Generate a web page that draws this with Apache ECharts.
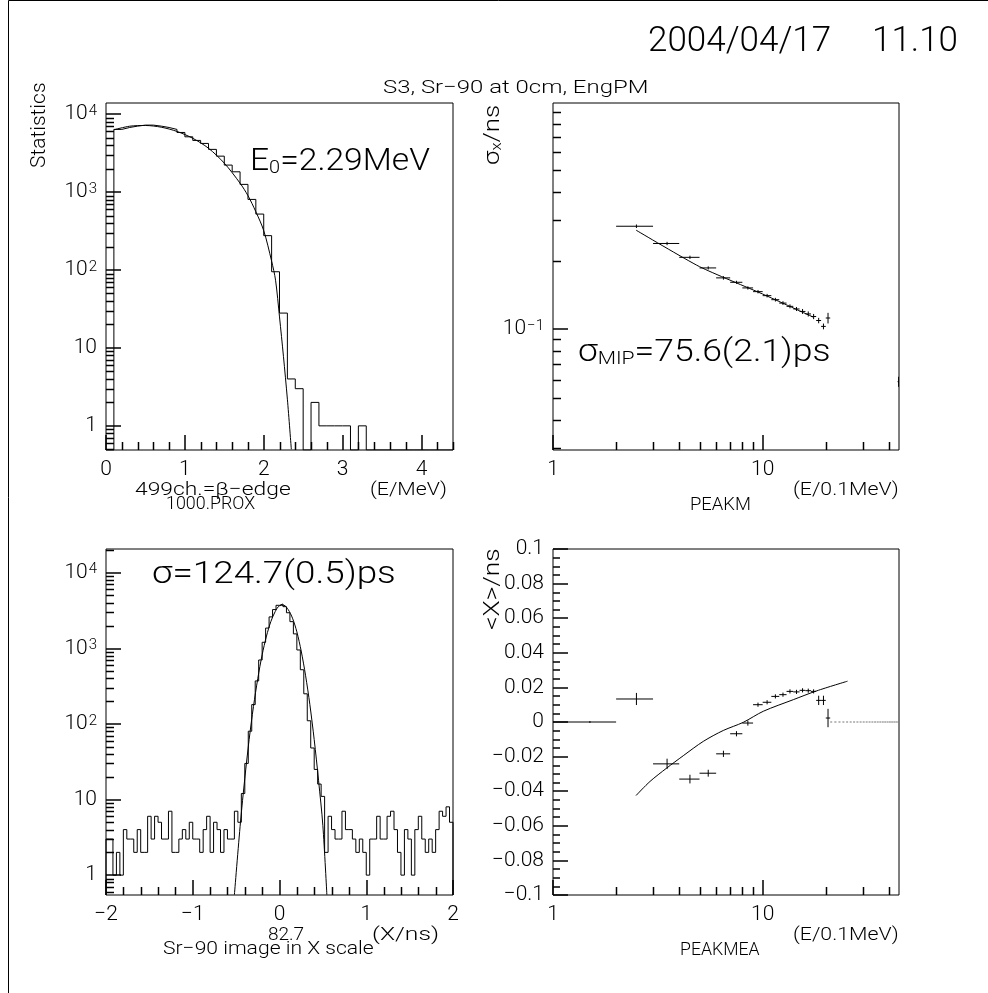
<!DOCTYPE html>
<html><head><meta charset="utf-8">
<script src="https://cdn.jsdelivr.net/npm/echarts@6/dist/echarts.min.js"></script>
<style>html,body{margin:0;padding:0;background:#fff}#c{width:988px;height:993px}</style>
</head><body><div id="c"></div>
<script>
// ---------------- DATA ----------------
// Top-left: energy spectrum histogram (bins of 0.1 MeV from 0 to 4.4)
const tlBinStart = 0.0, tlBinWidth = 0.1;
const tlCounts = [0,6370,6740,7020,7230,7230,7020,6740,6370,5820,5120,4600,4210,3530,2890,2220,1820,1255,805,522,276,95,28,4,3,0,2,1,1,1,1,0,1,0,0,0,0,0,0,0,0,0,0,0];
const tlFitE = [0.1,0.3,0.5,0.7,0.9,1.1,1.3,1.5,1.7,1.8,1.9,2.0,2.1,2.15,2.2,2.25,2.3,2.35];
const tlFitN = [6300,7000,7150,6800,6000,4900,3650,2350,1300,900,560,320,130,74,25,7.8,2.2,0.5];
const tlXTicks = [0,1,2,3,4];
const tlYTicks = [1,10,100,1000,10000];

// Top-right: sigma_x vs E (bins of width 1 in E/0.1MeV)
const trBinLo = [2,3,4,5,6,7,8,9,10,11,12,13,14,15,16,17,18,19,20,44];
const trSigma = [0.283,0.2377,0.2066,0.1856,0.1678,0.1605,0.1516,0.146,0.1402,0.1346,0.130,0.1258,0.1225,0.1195,0.1165,0.1135,0.109,0.1027,0.1118,0.0587];
const trErr = [0.005,0.004,0.0035,0.003,0.003,0.0025,0.0025,0.0025,0.0025,0.0025,0.0025,0.0025,0.0025,0.003,0.003,0.003,0.003,0.003,0.006,0.003];
const trFitE = [2.49,5.0,10,17.4];
const trFitS = [0.272,0.188,0.1425,0.1129];

// Bottom-left: time histogram (bins of 0.04 ns from -2 to 2)
const blBinStart = -2, blBinWidth = 0.04;
const blCounts = [3,3,1,2,1,4,3,3,2,4,2,2,6,3,6,5,3,3,7,2,2,3,4,3,5,3,3,2,4,6,2,5,4,2,4,3,3,7,5,12,
  30,80,180,370,700,1200,1850,2600,3250,3700,3850,3550,2950,2250,1550,950,520,250,110,48,25,16,
  11,2,6,4,3,3,7,4,4,3,2,3,2,1,3,3,6,3,3,6,7,4,2,1,4,3,1,4,6,3,2,3,2,4,7,6,8,5];
const blFitX = [-0.52,-0.45,-0.4,-0.35,-0.3,-0.25,-0.2,-0.15,-0.1,-0.05,0,0.05,0.1,0.15,0.2,0.25,0.3,0.35,0.4,0.45,0.5,0.546];
const blFitN = [0.55,5,19,62,170,400,820,1450,2250,3050,3650,3700,3250,2500,1650,920,440,180,62,18,4.5,0.55];
const blXTicks = [-2,-1,0,1,2];
const blYTicks = [1,10,100,1000,10000];

// Bottom-right: <X> vs E (bins of width 1)
const brBinLo = [1,2,3,4,5,6,7,8,9,10,11,12,13,14,15,16,17,18,19,20,21,22,23,24,25,26,27,28,29,30,31,32,33,34,35,36,37,38,39,40,41,42,43,44];
const brMean = [0,0.0133,-0.0242,-0.033,-0.0296,-0.0184,-0.0068,-0.0006,0.010,0.0114,0.0148,0.0158,0.0177,0.0174,0.0183,0.0181,0.0177,0.0125,0.0125,0.0023,
  0,0,0,0,0,0,0,0,0,0,0,0,0,0,0,0,0,0,0,0,0,0,0,0];
const brErr = [0,0.0035,0.003,0.0025,0.002,0.0018,0.0015,0.0015,0.0012,0.0012,0.0012,0.0012,0.0012,0.0012,0.0012,0.0012,0.0012,0.0027,0.0027,0.0053,
  0,0,0,0,0,0,0,0,0,0,0,0,0,0,0,0,0,0,0,0,0,0,0,0];
const brFitE = [2.49,2.90,3.48,4.18,5.21,6.49,8.08,10.07,14.0,18.1,25.4];
const brFitM = [-0.0425,-0.0344,-0.0267,-0.0195,-0.0112,-0.0049,-0.0002,0.0062,0.0129,0.0180,0.0236];
const logXTicks = [1,10];

// ---------------- RANGES ----------------
const TL = {xmin:0, xmax:4.4, ymin:0.49, ymax:13900};
const TR = {xmin:1, xmax:44.7, ymin:0.0294, ymax:0.985};
const BL = {xmin:-2, xmax:2, ymin:0.546, ymax:20550};
const BR = {xmin:1, xmax:44.7, ymin:-0.1, ymax:0.1, yInterval:0.02};

const FONT = "Roboto, 'DejaVu Sans', sans-serif";
const FW = 300;
const INK = '#000';
const TICKW = 1.5;

function range(a, b, step) { const r=[]; for (let v=a; v<=b+1e-9; v+=step) r.push(+v.toFixed(6)); return r; }
function nonMultiples(arr, step) { return arr.filter(v => Math.abs(v/step - Math.round(v/step)) > 1e-6); }
function logMinors(lo, hi) {
  const r=[]; for (let e=-3;e<=5;e++) for (let m=2;m<=9;m++){ const v=+(m*Math.pow(10,e)).toPrecision(6); if (v>lo && v<hi) r.push(v);} return r;
}
function supFmt(v) {
  const e = Math.round(Math.log10(v));
  if (e === 0) return '{b|1}';
  if (e === 1) return '{b|10}';
  return '{b|10}{sup|' + (e < 0 ? '\u2212' + (-e) : e) + '}';
}
function minusFmt(v) { return String(+(+v).toFixed(3)).replace('-', '\u2212'); }
const richSup = {
  b: {fontSize: 21, fontFamily: FONT, fontWeight: FW, color: INK, verticalAlign: 'bottom', lineHeight: 21},
  sup: {fontSize: 15, fontFamily: FONT, fontWeight: FW, color: INK, verticalAlign: 'top', lineHeight: 15, padding: [0,0,13,1]}
};
const labelStyle = {margin: 9, fontSize: 21, fontFamily: FONT, fontWeight: FW, color: INK};

function mkAxis(gridIndex, dim, type, min, max, ticks, fmt, rich) {
  const a = {
    gridIndex, type, min, max, scale: true,
    position: dim === 'x' ? 'bottom' : 'left',
    axisLine: {show: false, onZero: false}, splitLine: {show: false}, minorTick: {show: false},
    axisTick: {show: true, inside: true, length: 15, customValues: ticks, lineStyle: {color: INK, width: TICKW}},
    axisLabel: Object.assign({show: true, customValues: ticks, formatter: fmt, rich: rich || undefined}, labelStyle)
  };
  if (type === 'log') a.logBase = 10;
  return a;
}

const xAxes = [
  mkAxis(0,'x','value',TL.xmin,TL.xmax,tlXTicks,v=>String(v)),
  mkAxis(1,'x','log',TR.xmin,TR.xmax,logXTicks,v=>String(Math.round(v))),
  mkAxis(2,'x','value',BL.xmin,BL.xmax,blXTicks,v=>minusFmt(v)),
  mkAxis(3,'x','log',BR.xmin,BR.xmax,logXTicks,v=>String(Math.round(v)))
];
const yAxes = [
  mkAxis(0,'y','log',TL.ymin,TL.ymax,tlYTicks,supFmt,richSup),
  mkAxis(1,'y','log',TR.ymin,TR.ymax,[0.1],supFmt,richSup),
  mkAxis(2,'y','log',BL.ymin,BL.ymax,blYTicks,supFmt,richSup),
  {gridIndex:3, type:'value', min:BR.ymin, max:BR.ymax, interval:BR.yInterval, position:'left',
    axisLine:{show:false, onZero:false}, splitLine:{show:false},
    axisTick:{show:true, inside:true, length:15, lineStyle:{color:INK, width:TICKW}},
    minorTick:{show:true, splitNumber:4, length:7, lineStyle:{color:INK, width:TICKW}},
    axisLabel: Object.assign({show:true, formatter: v => minusFmt(v)}, labelStyle)}
];

// minor ticks on the other axes, placed through each panel's own scales
const minorX = [nonMultiples(range(0,4.4,0.2),1), logMinors(TR.xmin,TR.xmax), nonMultiples(range(-2,2,0.2),1), logMinors(BR.xmin,BR.xmax)];
const minorY = [logMinors(TL.ymin,TL.ymax), logMinors(TR.ymin,TR.ymax), logMinors(BL.ymin,BL.ymax), []];
const RANGES = [TL, TR, BL, BR];
function minorTickSeries(gi) {
  const R = RANGES[gi];
  const data = minorX[gi].map(v => [v, R.ymin, 0]).concat(minorY[gi].map(v => [R.xmin, v, 1]));
  return {type:'custom', xAxisIndex: gi, yAxisIndex: gi, data, clip:false, silent:true, animation:false, z: 5,
    renderItem(params, api) {
      const cs = params.coordSys;
      const p = api.coord([api.value(0), api.value(1)]);
      const bottom = cs.y + cs.height, left = cs.x, len = 8;
      const shape = api.value(2) === 0
        ? {x1: Math.round(p[0]) + 0.5, y1: bottom, x2: Math.round(p[0]) + 0.5, y2: bottom - len}
        : {x1: left, y1: Math.round(p[1]) + 0.5, x2: left + len, y2: Math.round(p[1]) + 0.5};
      return {type:'line', shape, style:{stroke: INK, lineWidth: TICKW}};
    }};
}

function histData(start, width, counts, floor) {
  const d = [[start, floor]];
  counts.forEach((c, i) => d.push([+(start + i*width).toFixed(6), c > 0 ? c : floor]));
  d.push([+(start + counts.length*width).toFixed(6), counts[counts.length-1] > 0 ? counts[counts.length-1] : floor]);
  d.push([+(start + counts.length*width).toFixed(6), floor]);
  return d;
}
function stepSeries(gi, data) {
  return {type:'line', xAxisIndex: gi, yAxisIndex: gi, data, step:'end', symbol:'none', clip:true,
    lineStyle:{color: INK, width: 1}, animation:false, silent:true};
}
function curveSeries(gi, xs, ys, smooth) {
  return {type:'line', xAxisIndex: gi, yAxisIndex: gi, data: xs.map((x,i)=>[x, ys[i]]), symbol:'none', clip:true,
    smooth: smooth || false, lineStyle:{color: INK, width: 1}, animation:false, silent:true};
}
function errSeries(gi, data) {
  return {type:'custom', xAxisIndex: gi, yAxisIndex: gi, data, clip:true, animation:false, silent:true,
    renderItem(params, api) {
      const xc = api.value(0), y = api.value(1), xl = api.value(2), xh = api.value(3), yl = api.value(4), yh = api.value(5);
      const zero = api.value(6) === 1;
      const pL = api.coord([xl, y]), pR = api.coord([xh, y]);
      const pB = api.coord([xc, yl]), pT = api.coord([xc, yh]);
      const st = zero ? {stroke:'#777', lineWidth:1, lineDash:[2,2]} : {stroke: INK, lineWidth: 1};
      const ch = [{type:'line', shape:{x1:pL[0], y1:pL[1], x2:pR[0], y2:pR[1]}, style: st}];
      if (!zero) {
        if (Math.abs(pB[1]-pT[1]) > 2) ch.push({type:'line', shape:{x1:pB[0], y1:pB[1], x2:pT[0], y2:pT[1]}, style:{stroke: INK, lineWidth: 1}});
        else ch.push({type:'line', shape:{x1:pB[0], y1:pB[1]+1, x2:pT[0], y2:pT[1]-1}, style:{stroke: INK, lineWidth: 1}});
      }
      return {type:'group', children: ch};
    }
  };
}
const trErrData = trBinLo.map((lo,i)=>[lo+0.5, trSigma[i], lo, lo+1, trSigma[i]-trErr[i], trSigma[i]+trErr[i], 0]);
const brErrData = brBinLo.map((lo,i)=>[lo+0.5, brMean[i], lo, lo+1, brMean[i]-brErr[i], brMean[i]+brErr[i], (brMean[i]===0 && brErr[i]===0 && lo>20) ? 1 : 0]);

const series = [
  stepSeries(0, histData(tlBinStart, tlBinWidth, tlCounts, TL.ymin)),
  curveSeries(0, tlFitE, tlFitN, 0.3),
  errSeries(1, trErrData),
  curveSeries(1, trFitE, trFitS, 0.2),
  stepSeries(2, histData(blBinStart, blBinWidth, blCounts, BL.ymin)),
  curveSeries(2, blFitX, blFitN, 0.3),
  errSeries(3, brErrData),
  curveSeries(3, brFitE, brFitM, 0.3),
  minorTickSeries(0), minorTickSeries(1), minorTickSeries(2), minorTickSeries(3)
];

function txt(x, y, text, size, opt) {
  opt = opt || {};
  return Object.assign({type:'text', x, y, silent:true, scaleX: opt.sx || 1,
    style: Object.assign({text, fontSize:size, fontFamily:FONT, fontWeight:FW, fill:INK,
    textAlign: opt.align || 'left', textVerticalAlign:'middle'}, opt.style || {})}, opt.el || {});
}
function richTxt(x, y, parts, big, small, drop, opt) {
  opt = opt || {};
  return Object.assign({type:'text', x, y, silent:true, scaleX: opt.sx || 1,
    style:{text: parts, fontFamily:FONT, fontWeight:FW, textVerticalAlign:'middle',
    rich:{a:{fontSize:big, fontFamily:FONT, fontWeight:FW, color:INK, lineHeight:big, padding:[0,0,drop,0], verticalAlign:'top'},
          s:{fontSize:small, fontFamily:FONT, fontWeight:FW, color:INK, lineHeight:small, verticalAlign:'bottom'}}}}, opt.el || {});
}
const graphics = [
  {type:'rect', shape:{x:8.5, y:0.5, width:1200, height:1200}, style:{fill:'none', stroke:INK, lineWidth:1}, silent:true},
  txt(648, 42, '2004/04/17', 35),
  txt(958, 42, '11.10', 35, {align:'right'}),
  txt(383, 88, 'S3, Sr\u221290 at 0cm, EngPM', 19, {sx:1.26}),
  txt(40, 168, 'Statistics', 20, {el:{rotation: Math.PI/2}, sx:1.05}),
  richTxt(250, 162, '{a|E}{s|0}{a|=2.29MeV}', 32, 19, 8, {sx:1.05}),
  txt(135, 490, '499ch.=\u03b2\u2212edge', 19, {sx:1.2}),
  txt(370, 490, '(E/MeV)', 19, {sx:1.12}),
  txt(166, 504, '1000.PROX', 19, {sx:0.94}),
  richTxt(493, 165, '{a|\u03c3}{s|x}{a|/ns}', 22, 14, 5, {el:{rotation: Math.PI/2}, sx:1.18}),
  richTxt(578, 353, '{a|\u03c3}{s|MIP}{a|=75.6(2.1)ps}', 32, 19, 8, {sx:1.11}),
  txt(793, 490, '(E/0.1MeV)', 19, {sx:1.12}),
  txt(690, 505, 'PEAKM', 19, {sx:0.97}),
  txt(152, 575, '\u03c3=124.7(0.5)ps', 32, {sx:1.15}),
  txt(268, 935, '82.7', 19),
  txt(372, 935, '(X/ns)', 19, {sx:1.3}),
  txt(163, 949, 'Sr\u221290 image in X scale', 19, {sx:1.11}),
  txt(493, 630, '<X>/ns', 22, {el:{rotation: Math.PI/2}, sx:1.2}),
  txt(793, 935, '(E/0.1MeV)', 19, {sx:1.12}),
  txt(680, 950, 'PEAKMEA', 19, {sx:0.93})
];

const grids = [
  {left:106, top:103, width:347, height:347},
  {left:553, top:103, width:346, height:347},
  {left:106, top:549, width:347, height:346},
  {left:553, top:549, width:346, height:346}
].map(r => Object.assign({show:true, borderColor:INK, borderWidth:1, backgroundColor:'transparent'}, r));

const chart = echarts.init(document.getElementById('c'), null, {renderer:'canvas'});
chart.setOption({
  animation: false,
  backgroundColor: '#fff',
  grid: grids,
  xAxis: xAxes,
  yAxis: yAxes,
  series,
  graphic: graphics
});
</script>
</body></html>
